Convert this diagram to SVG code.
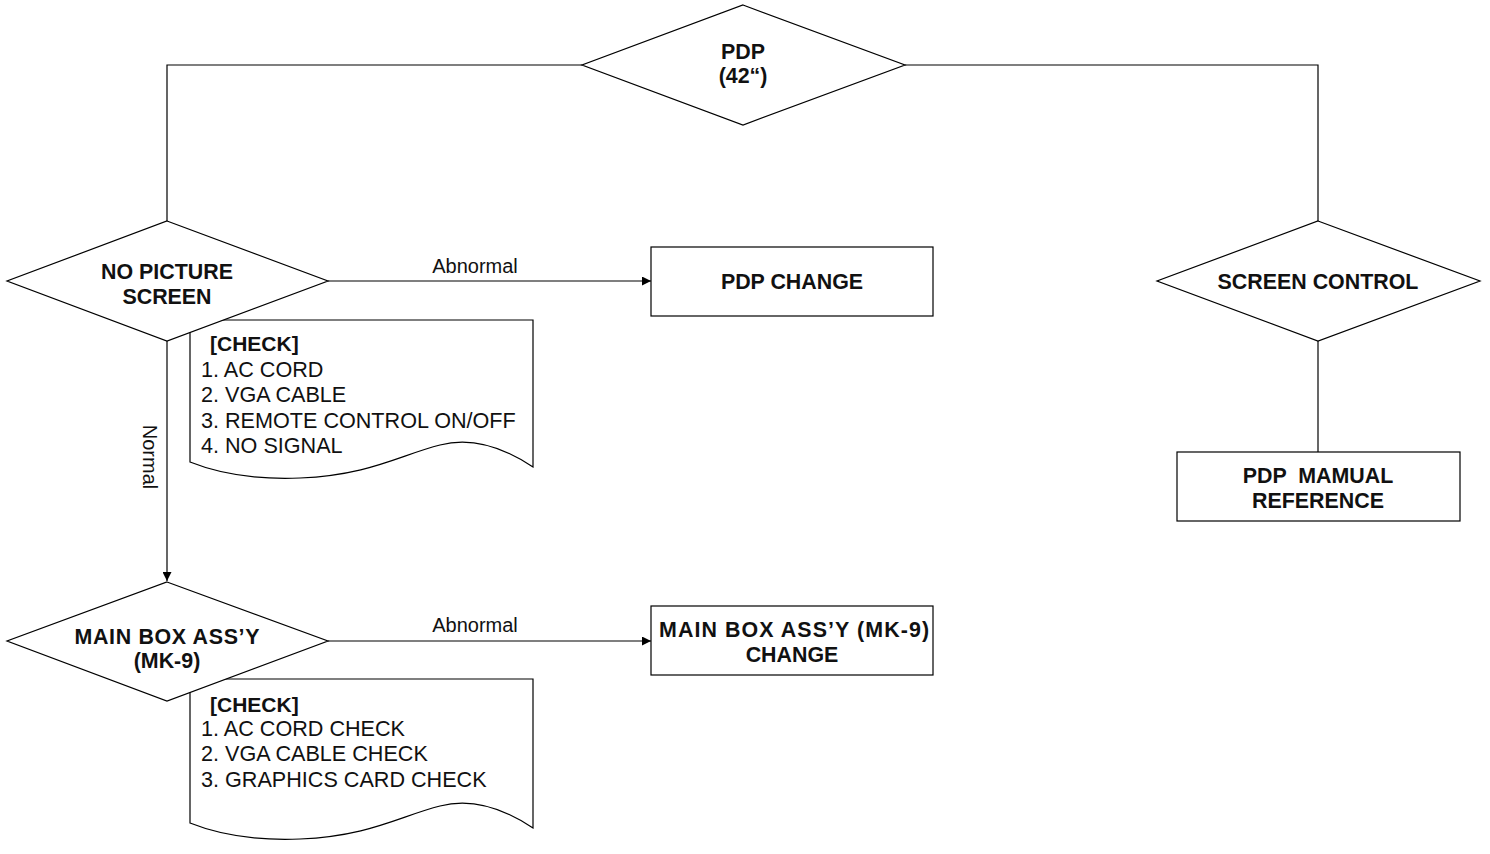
<svg xmlns="http://www.w3.org/2000/svg" width="1490" height="854" viewBox="0 0 1490 854">
<style>
.s{fill:#fff;stroke:#000;stroke-width:1.2}
.ln{fill:none;stroke:#000;stroke-width:1.2}
.b{font-family:"Liberation Sans",Arial,sans-serif;font-weight:bold;font-size:21.4px;fill:#111;text-anchor:middle}
.t{font-family:"Liberation Sans",Arial,sans-serif;font-size:21.6px;fill:#111}
.tb{font-family:"Liberation Sans",Arial,sans-serif;font-size:21px;font-weight:bold;fill:#111}
.l{font-family:"Liberation Sans",Arial,sans-serif;font-size:20px;fill:#111;text-anchor:middle}
</style>
<defs>
<marker id="ah" viewBox="0 0 10 10" refX="10" refY="5" markerWidth="9" markerHeight="9" markerUnits="userSpaceOnUse" orient="auto">
<path d="M0,0 L10,5 L0,10 z" fill="#000"/>
</marker>
</defs>
<g id="connectors">
<polyline class="ln" points="582,65 167,65 167,221"/>
<polyline class="ln" points="905,65 1318,65 1318,221"/>
<line class="ln" x1="328" y1="281" x2="651" y2="281" marker-end="url(#ah)"/>
<text class="l" x="475" y="273">Abnormal</text>
<line class="ln" x1="167" y1="341" x2="167" y2="581" marker-end="url(#ah)"/>
<text class="l" transform="translate(143,457) rotate(90)">Normal</text>
<line class="ln" x1="328" y1="641" x2="651" y2="641" marker-end="url(#ah)"/>
<text class="l" x="475" y="632">Abnormal</text>
<line class="ln" x1="1318" y1="341" x2="1318" y2="452"/>
</g>
<g id="check1">
<path class="s" d="M190,320 L533,320 L533,467 C500,445 470,437 440,445 C400,455 370,475 300,478 C250,480 215,472 190,462 Z"/>
<text class="tb" x="210" y="351">[CHECK]</text>
<text class="t" x="201" y="377">1. AC CORD</text>
<text class="t" x="201" y="402">2. VGA CABLE</text>
<text class="t" x="201" y="428">3. REMOTE CONTROL ON/OFF</text>
<text class="t" x="201" y="453">4. NO SIGNAL</text>
</g>
<g id="check2">
<path class="s" d="M190,679 L533,679 L533,828 C500,806 470,798 440,806 C400,816 370,836 300,839 C250,841 215,833 190,823 Z"/>
<text class="tb" x="210" y="712">[CHECK]</text>
<text class="t" x="201" y="736">1. AC CORD CHECK</text>
<text class="t" x="201" y="761">2. VGA CABLE CHECK</text>
<text class="t" x="201" y="787">3. GRAPHICS CARD CHECK</text>
</g>
<g id="pdp">
<polygon class="s" points="743,5 905,65 743,125 582,65"/>
<text class="b" x="743" y="59">PDP</text>
<text class="b" x="743" y="83">(42“)</text>
</g>
<g id="no-picture">
<polygon class="s" points="167,221 328,281 167,341 7,281"/>
<text class="b" x="167" y="279">NO PICTURE</text>
<text class="b" x="167" y="304">SCREEN</text>
</g>
<g id="pdp-change">
<rect class="s" x="651" y="247" width="282" height="69"/>
<text class="b" x="792" y="289">PDP CHANGE</text>
</g>
<g id="main-box">
<polygon class="s" points="167,582 328,641 167,701 7,641"/>
<text class="b" x="167" y="644" textLength="185" lengthAdjust="spacing">MAIN BOX ASS’Y</text>
<text class="b" x="167" y="668">(MK-9)</text>
</g>
<g id="main-box-change">
<rect class="s" x="651" y="606" width="282" height="69"/>
<text class="b" x="794" y="637" textLength="270" lengthAdjust="spacing">MAIN BOX ASS’Y (MK-9)</text>
<text class="b" x="792" y="662">CHANGE</text>
</g>
<g id="screen-control">
<polygon class="s" points="1318,221 1480,281 1318,341 1157,281"/>
<text class="b" x="1318" y="289">SCREEN CONTROL</text>
</g>
<g id="pdp-manual">
<rect class="s" x="1177" y="452" width="283" height="69"/>
<text class="b" x="1318" y="483" xml:space="preserve">PDP  MAMUAL</text>
<text class="b" x="1318" y="508">REFERENCE</text>
</g>
</svg>
